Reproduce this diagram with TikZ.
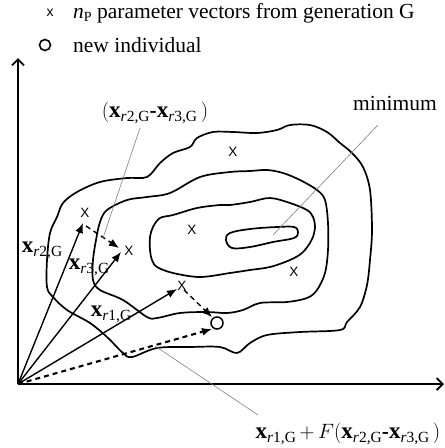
\documentclass[tikz,border=0pt]{standalone}
\usepackage{fontspec}
\setmainfont{Liberation Serif}
\newfontfamily\mkfont{Liberation Sans}
\usetikzlibrary{arrows.meta}
\newcommand{\xv}[1]{{\fontsize{23}{23}\selectfont\textbf{x}}\raisebox{-4pt}{\fontsize{15.5}{15.5}\selectfont\textit{r}#1,G}}
\begin{document}
\begin{tikzpicture}[x=1pt,y=-1pt,
  contour/.style={line width=1.7pt, line join=round},
  vec/.style={line width=1.4pt, -{Latex[length=10pt,width=8pt]}},
  dvec/.style={vec, dash pattern=on 5pt off 4pt},
  leader/.style={line width=0.6pt, draw=gray},
  axis/.style={line width=2.2pt, -{Straight Barb[length=6pt,width=12pt,line width=1.8pt]}},
  ptx/.style={font=\mkfont\fontsize{13.5}{13.5}\selectfont, inner sep=0pt},
  lab/.style={font=\fontsize{21.5}{24}\selectfont, inner sep=0pt},
]
\useasboundingbox (0,0) rectangle (445,448);

% legend
\node[ptx, font=\mkfont\fontsize{14}{14}\selectfont] (lx) at (50,13) {x};
\node[lab, anchor=base west] (l1) at (73,18.5) {\textit{n}\raisebox{-3pt}{\fontsize{14}{14}\selectfont P} parameter vectors from generation G};
\node[draw, circle, line width=1.6pt, minimum size=11pt, inner sep=0pt] (lo) at (45,45) {};
\node[lab, anchor=base west] (l2) at (73,52) {new individual};

% axes
\coordinate (O) at (18,384);
\coordinate (ytop) at (18,58);
\coordinate (xend) at (444,384);
\draw[axis] (O) -- (ytop);
\draw[axis] (O) -- (xend);

% contours
\draw[contour] plot[smooth cycle, tension=0.55] coordinates {
 (213,132) (197,138) (190,147) (173,153) (160,163) (147,177) (127,178) (100,182)
 (77,192) (63,203) (57,217) (50,233) (47,260) (47,287) (53,297) (67,310) (90,323)
 (107,337) (123,353) (132,357) (157,348) (190,347) (220,347) (237,353) (250,343)
 (267,335) (300,332) (340,330) (347,322) (360,307) (367,285) (370,260) (372,230)
 (370,190) (363,167) (352,153) (340,143) (327,132) (310,125) (290,125) (277,130)
 (257,133) (233,132)};
\draw[contour] plot[smooth cycle, tension=0.55] coordinates {
 (230,172) (200,177) (170,193) (147,197) (127,200) (107,210) (100,222) (96,240)
 (93,260) (93,280) (100,290) (123,300) (147,317) (157,318) (180,313) (207,312)
 (227,313) (243,310) (260,303) (287,302) (307,298) (317,290) (325,273) (328,250)
 (328,223) (325,200) (317,190) (300,180) (283,173) (267,170) (250,171)};
\draw[contour] plot[smooth cycle, tension=0.55] coordinates {
 (230,205) (220,205) (197,208) (173,215) (160,218) (153,227) (150,237) (150,250)
 (152,260) (157,267) (173,273) (200,277) (230,273) (250,270) (270,267) (290,260)
 (302,253) (310,243) (313,237) (315,227) (313,217) (307,210) (290,203) (270,198)
 (250,202)};
\draw[contour] plot[smooth cycle, tension=0.6] coordinates {
 (226,240) (230,233) (250,229) (277,227) (294,227) (298,232) (294,238) (273,242)
 (250,247) (232,248)};

% markers
\node[ptx] (p2) at (85,213) {X};
\node[ptx] (p3) at (129,251) {X};
\node[ptx] (p1) at (182,286) {X};
\node[ptx] (pa) at (192,230) {X};
\node[ptx] (pb) at (233,152) {X};
\node[ptx] (pc) at (294,272) {X};
\node[draw, circle, line width=1.5pt, minimum size=12pt, inner sep=0pt] (new) at (217,323) {};

% vectors
\coordinate (t2) at (83,223);
\coordinate (t3) at (121,252);
\coordinate (t1) at (177,289);
\coordinate (s2) at (86,226);
\coordinate (e23) at (119,248);
\coordinate (s1) at (184,290);
\coordinate (e1) at (212,317);
\coordinate (enew) at (212,329);
\draw[vec] (O) -- (t2);
\draw[vec] (O) -- (t3);
\draw[vec] (O) -- (t1);
\draw[dvec] (s2) -- (e23);
\draw[dvec] (s1) -- (e1);
\draw[dvec, line width=2.1pt] (O) -- (enew);

% labels
\node[lab, anchor=base] (lr2) at (42,252) {\xv{2}};
\node[lab, anchor=base] (lr3) at (89,269) {\xv{3}};
\node[lab, anchor=base] (lr1) at (111,316) {\xv{1}};
\node[lab, anchor=base] (ldiff) at (155,117) {$($\xv{2}\textbf{-}\xv{3}\,$)$};
\node[lab, anchor=base] (lmin) at (395,110) {minimum};
\node[lab, anchor=base] (lsum) at (348,438) {\xv{1}\,$+$\,$F($\xv{2}\textbf{-}\xv{3}\,$)$};

% leaders
\coordinate (m1) at (378,125); \coordinate (m2) at (273,235);
\coordinate (d1) at (140,128); \coordinate (d2) at (103,238);
\coordinate (b1) at (155,346); \coordinate (b2) at (258,415);
\draw[leader] (m1) -- (m2);
\draw[leader] (d1) -- (d2);
\draw[leader] (b1) -- (b2);
\end{tikzpicture}
\end{document}
